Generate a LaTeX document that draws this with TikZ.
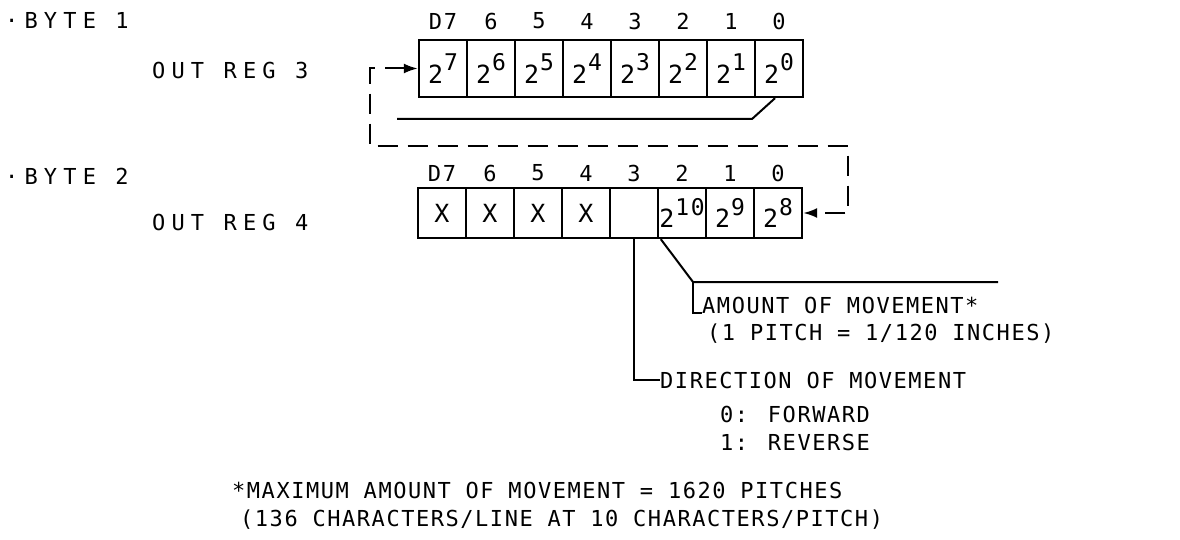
\documentclass[tikz,border=0pt]{standalone}
\usepackage{fontspec}
\usetikzlibrary{arrows.meta}
\setmainfont{DejaVu Sans Mono}
\newfontfamily\plotfont[LetterSpace=7]{DejaVu Sans Mono}
\newfontfamily\widefont[LetterSpace=28]{DejaVu Sans Mono}
\newcommand{\pw}[1]{2\hspace{1pt}\raisebox{0.5em}{\fontsize{23}{26}\selectfont#1}}

\begin{document}
\begin{tikzpicture}[x=1pt,y=-1pt,
    every node/.style={font=\fontsize{22}{26}\selectfont\plotfont, inner sep=0},
    wide/.style={font=\fontsize{22}{26}\selectfont\widefont},
    cell/.style={draw, line width=2.4, minimum width=48, font=\fontsize{25}{26}\selectfont\plotfont},
    link/.style={line width=2},
    loopline/.style={line width=2, dash pattern=on 20 off 10},
    tip/.tip={Latex[length=14pt,width=10pt]}]
    \useasboundingbox (0,0) rectangle (1180,540);

    % register labels
    \node[wide, anchor=west] (byte1) at (5,20) {·BYTE 1};
    \node[wide, anchor=west] (reg3) at (152,70) {OUT REG 3};
    \node[wide, anchor=west] (byte2) at (5,176) {·BYTE 2};
    \node[wide, anchor=west] (reg4) at (152,222) {OUT REG 4};

    % byte 1
    \foreach \b [count=\k from 0] in {D7,6,5,4,3,2,1,0}
        \node (ta\k) at (443+48*\k,21) {\b};
    \foreach \e [count=\k from 0] in {7,...,0}
        \node[cell, minimum height=57] (a\e) at (443+48*\k,68.5) {\pw{\e}};

    % byte 2
    \foreach \b [count=\k from 0] in {D7,6,5,4,3,2,1,0}
        \node (tb\k) at (442+48*\k,173) {\b};
    \foreach \e/\t [count=\k from 0] in {7/X,6/X,5/X,4/X,3/{},2/\pw{10},1/\pw{9},0/\pw{8}}
        \node[cell, minimum height=50] (b\e) at (442+48*\k,213) {\t};

    % carry from byte 1 into byte 2
    \coordinate (fbknee) at (752,119);
    \coordinate (fbend) at (397,119);
    \draw[link] ([xshift=-4]a0.south) -- (fbknee) -- (fbend);
    \coordinate (lt) at (370,68.5);
    \coordinate (lb) at (370,146);
    \coordinate (rb) at (848,146);
    \draw[loopline, tip-tip] (a7.west) -- (lt) -- (lb) -- (rb) |- (b0.east);

    % notes
    \node[anchor=base west] (amt) at (702,313) {AMOUNT OF MOVEMENT*};
    \node[anchor=west] (pitch) at (707,334) {(1 PITCH = 1/120 INCHES)};
    \node[anchor=west] (dir) at (660,380) {DIRECTION OF MOVEMENT};
    \node[anchor=west] (fwd) at (720,414) {0: FORWARD};
    \node[anchor=west] (rev) at (720,442) {1: REVERSE};
    \node[anchor=west] (maxnote) at (232,490) {*MAXIMUM AMOUNT OF MOVEMENT = 1620 PITCHES};
    \node[anchor=west] (charnote) at (240,520) {(136 CHARACTERS/LINE AT 10 CHARACTERS/PITCH)};

    \coordinate (knee) at (693,282);
    \coordinate (amtend) at (998,282);
    \draw[link] ([xshift=4]b2.south west) -- (knee) -- (amtend);
    \draw[link] (knee) |- (amt.base west);
    \draw[link] (b3.south) |- (dir.west);
\end{tikzpicture}
\end{document}
